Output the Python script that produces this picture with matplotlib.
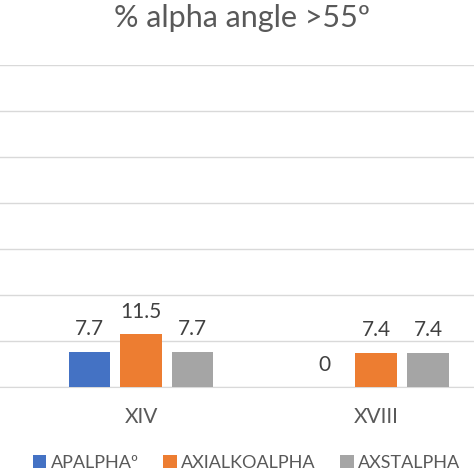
import numpy as np
import matplotlib
matplotlib.use("Agg")
import matplotlib.pyplot as plt

# ── Data ─────────────────────────────────────────────────────────────────────

CATEGORIES = ["XIV", "XVIII"]
SERIES     = ["APALPHAº", "AXIALKOALPHA", "AXSTALPHA"]
APALPHA    = [7.7, 0]
AXIALKO    = [11.5, 7.4]
AXST       = [7.7, 7.4]
LABELS     = [["7.7", "0"], ["11.5", "7.4"], ["7.7", "7.4"]]

COLORS = ["#4472C4", "#ED7D31", "#A5A5A5"]

plt.rcParams["font.family"] = ["Lato", "DejaVu Sans"]

# ── Plot ─────────────────────────────────────────────────────────────────────

fig = plt.figure(figsize=(4.74, 4.74), dpi=100)
ax = fig.add_axes([0.0, 0.1835, 1.0, 0.6795])

x = np.arange(len(CATEGORIES))
width = 0.175
step = 0.221
values = [APALPHA, AXIALKO, AXST]

bars = []
for i, (vals, col, name) in enumerate(zip(values, COLORS, SERIES)):
    b = ax.bar(x + (i - 1) * step, vals, width, color=col, label=name, zorder=3)
    bars.append(b)
    for xi, v, lab in zip(x + (i - 1) * step, vals, LABELS[i]):
        ax.annotate(lab, (xi, v), xytext=(0, 9), textcoords="offset points",
                    ha="center", va="bottom", fontsize=15, color="#404040")

ax.set_xlim(-0.6, 1.417)
ax.set_ylim(0, 70)
ax.set_yticks(np.arange(0, 71, 10))
ax.yaxis.grid(True, color="#D9D9D9", linewidth=1.0, zorder=0)
ax.tick_params(axis="y", left=False, labelleft=False)
ax.tick_params(axis="x", bottom=False, labelsize=15, labelcolor="#595959", pad=11)
ax.set_xticks(x)
ax.set_xticklabels(CATEGORIES)
for side in ["top", "right", "left"]:
    ax.spines[side].set_visible(False)
ax.spines["bottom"].set_color("#D9D9D9")

fig.text(0.51, 0.962, "% alpha angle >55º", ha="center", va="center",
         fontsize=22, color="#595959")

fig.legend(handles=bars, labels=SERIES, loc="center", bbox_to_anchor=(0.52, 0.023),
           ncol=3, frameon=False, fontsize=13, handlelength=0.75, handleheight=0.75,
           handletextpad=0.25, columnspacing=1.35, labelcolor="#595959")

fig.savefig("out.png", dpi=100)
